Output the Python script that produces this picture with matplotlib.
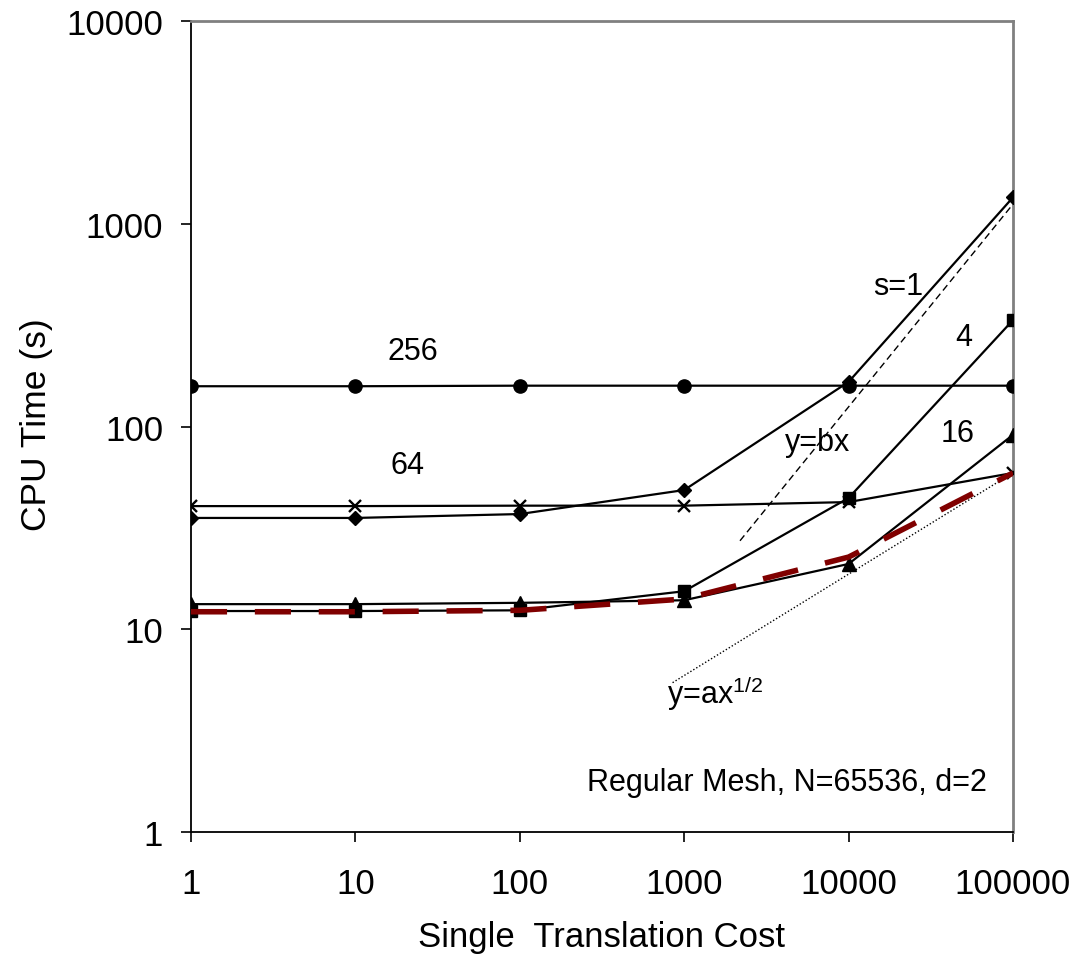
import numpy as np
from matplotlib import pyplot as plt

plt.rcParams['font.family'] = ['Liberation Sans', 'DejaVu Sans']

# translation cost on the x axis
cost = [1, 10, 100, 1000, 10000, 100000]

# CPU time (s) for each block size s
s1 = [35.4, 35.4, 37.0, 48.6, 166, 1350]
s4 = [12.3, 12.3, 12.4, 15.4, 44.4, 335]
s16 = [13.3, 13.3, 13.5, 13.9, 21.0, 91]
s64 = [40.5, 40.5, 40.7, 40.7, 42.4, 59]
s256 = [158, 158, 159, 159, 159, 159]
best = [12.2, 12.2, 12.4, 14.1, 22.7, 59]

# reference slopes
bx_x = [2185, 100000]
b = 0.0125
sqrt_x = [850, 100000]
a = 0.187

tick_vals = [1, 10, 100, 1000, 10000, 100000]
tick_text = ['1', '10', '100', '1000', '10000', '100000']
ytick_vals = [1, 10, 100, 1000, 10000]
ytick_text = ['1', '10', '100', '1000', '10000']

fig = plt.figure(figsize=(10.74, 9.62), dpi=100)
ax = fig.add_axes([0.1778, 0.1341, 0.7654, 0.8430])

lw = 1.6
ax.plot(cost, s256, color='black', lw=lw, marker='o', ms=9.5, zorder=3)
ax.plot(cost, s64, color='black', lw=lw, marker='x', ms=9, mew=1.7, zorder=3)
ax.plot(cost, s1, color='black', lw=lw, marker='D', ms=7, zorder=3)
ax.plot(cost, s4, color='black', lw=lw, marker='s', ms=9, zorder=3)
ax.plot(cost, s16, color='black', lw=lw, marker='^', ms=9.5, zorder=3)
ax.plot(cost, best, color='#800000', lw=4, dashes=(6.5, 5), zorder=4)

bx_y = [b * v for v in bx_x]
ax.plot(bx_x, bx_y, color='black', lw=1.0, dashes=(5, 3), zorder=2)
sqrt_y = [a * np.sqrt(v) for v in sqrt_x]
ax.plot(sqrt_x, sqrt_y, color='black', lw=1.0, ls=(0, (1, 1.5)), zorder=2)

ax.set_xscale('log')
ax.set_yscale('log')
ax.set_xlim(1, 100000)
ax.set_ylim(1, 10000)
ax.set_xticks(tick_vals)
ax.set_xticklabels(tick_text)
ax.set_yticks(ytick_vals)
ax.set_yticklabels(ytick_text)
ax.minorticks_off()
ax.tick_params(axis='both', direction='out', length=7, width=1.2, labelsize=25)
ax.tick_params(axis='x', pad=18)
ax.tick_params(axis='y', pad=13)

for side in ['left', 'bottom']:
    ax.spines[side].set_color('black')
    ax.spines[side].set_linewidth(1.3)
for side in ['top', 'right']:
    ax.spines[side].set_color('#808080')
    ax.spines[side].set_linewidth(2)

# curve labels
fs = 22
ax.text(22.4, 235, '256', fontsize=fs, ha='center', va='center')
ax.text(20.9, 64.6, '64', fontsize=fs, ha='center', va='center')
ax.text(19950, 493, 's=1', fontsize=fs, ha='center', va='center')
ax.text(50350, 276, '4', fontsize=fs, ha='center', va='center')
ax.text(46300, 92.9, '16', fontsize=fs, ha='center', va='center')
ax.text(6510, 83.9, 'y=bx', fontsize=fs, ha='center', va='center')
ax.text(1538, 4.85, r'y=ax$^{\mathregular{1/2}}$', fontsize=fs, ha='center', va='center')
ax.text(4220, 1.77, 'Regular Mesh, N=65536, d=2', fontsize=22, ha='center', va='center')

fig.text(37 / 1074, 1 - 425 / 962, 'CPU Time (s)', fontsize=25.5, rotation=90,
         ha='center', va='center')
fig.text(602 / 1074, 1 - 938 / 962, 'Single  Translation Cost', fontsize=25,
         ha='center', va='center')

fig.savefig('out.png', dpi=100)
